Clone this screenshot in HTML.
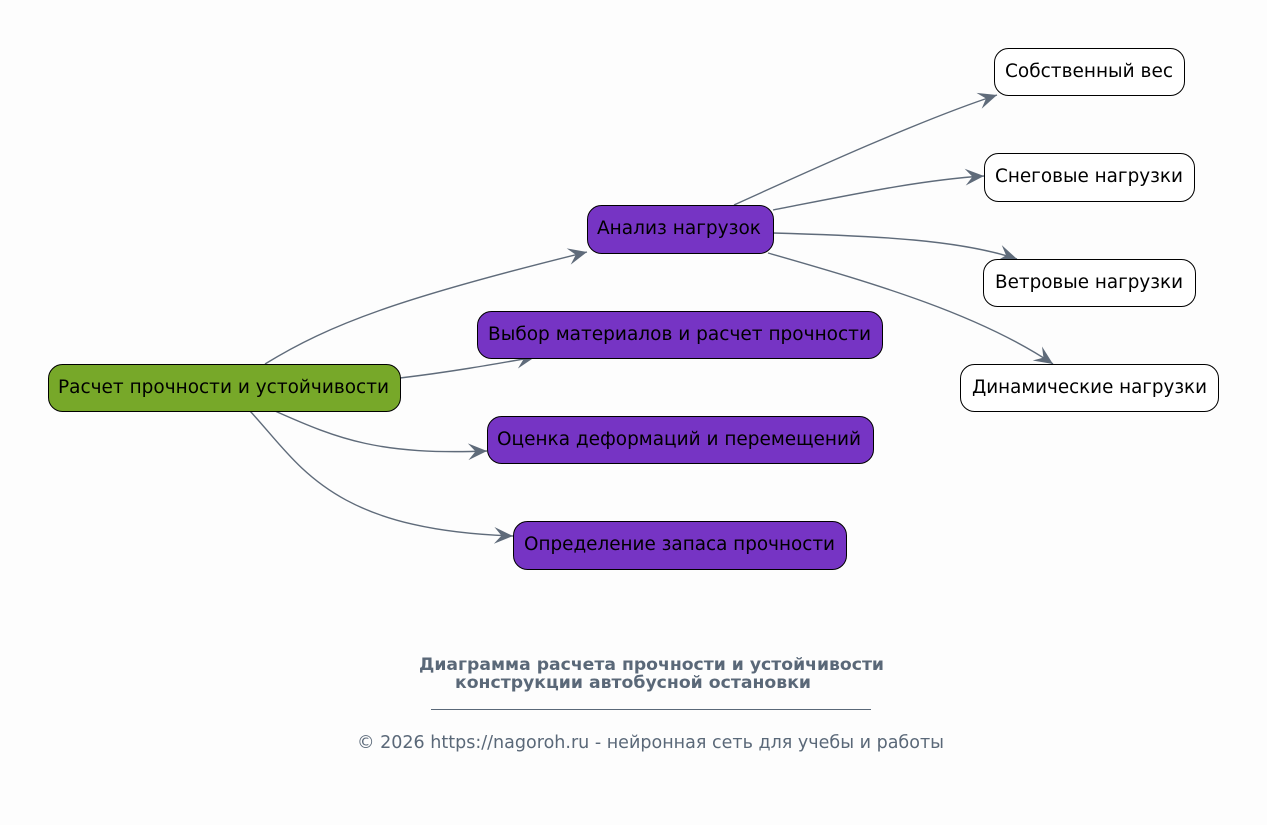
<!DOCTYPE html>
<html><head><meta charset="utf-8"><style>
html,body{margin:0;padding:0;background:#fdfdfd;}
svg{display:block;}
text{font-family:"DejaVu Sans","Liberation Sans",sans-serif;}
</style></head><body>
<svg width="1267" height="825" viewBox="0 0 1267 825" xmlns="http://www.w3.org/2000/svg">
<defs>
<marker id="v" markerUnits="userSpaceOnUse" markerWidth="22" markerHeight="22" refX="0" refY="0" viewBox="-19 -10 21 20" orient="auto">
<path d="M0,0 L-18,-8 L-11,0 L-18,8 Z" fill="#5f6b7a"/>
</marker>
</defs>
<rect width="1267" height="825" fill="#fdfdfd"/>
<g fill="none" stroke="#5f6b7a" stroke-width="1.4" marker-end="url(#v)">
<path d="M265,364 C330,324 400,298 587,252"/>
<path d="M400,378 C450,372 490,365 535,357"/>
<path d="M275,411 C340,440 380,455 487,451"/>
<path d="M250,411 C300,465 330,530 513,536"/>
<path d="M734,205 C800,175 920,120 997,95"/>
<path d="M773,210 C850,195 920,180 984,176"/>
<path d="M773,233 C880,236 960,240 1017,259"/>
<path d="M768,253 C880,285 980,315 1053,364"/>
</g>
<g stroke="#000" stroke-width="1">
<rect x="48.5" y="364.5" width="352" height="47" rx="14" fill="#77a829"/>
<rect x="587.5" y="205.5" width="186" height="48" rx="14" fill="#7634c4"/>
<rect x="477.5" y="311.5" width="405" height="47" rx="14" fill="#7634c4"/>
<rect x="487.5" y="416.5" width="386" height="47" rx="14" fill="#7634c4"/>
<rect x="513.5" y="521.5" width="333" height="48" rx="14" fill="#7634c4"/>
<rect x="994.5" y="48.5" width="190" height="47" rx="14" fill="#fff"/>
<rect x="984.5" y="153.5" width="210" height="48" rx="14" fill="#fff"/>
<rect x="983.5" y="259.5" width="212" height="47" rx="14" fill="#fff"/>
<rect x="960.5" y="364.5" width="258" height="47" rx="14" fill="#fff"/>
</g>
<g font-size="18.5" fill="#000">
<text x="58" y="393" textLength="331" lengthAdjust="spacingAndGlyphs">Расчет прочности и устойчивости</text>
<text x="597" y="234" textLength="164" lengthAdjust="spacingAndGlyphs">Анализ нагрузок</text>
<text x="488" y="340" textLength="383" lengthAdjust="spacingAndGlyphs">Выбор материалов и расчет прочности</text>
<text x="497" y="445" textLength="364" lengthAdjust="spacingAndGlyphs">Оценка деформаций и перемещений</text>
<text x="524" y="550" textLength="311" lengthAdjust="spacingAndGlyphs">Определение запаса прочности</text>
<text x="1005" y="77" textLength="168" lengthAdjust="spacingAndGlyphs">Собственный вес</text>
<text x="995" y="182" textLength="188" lengthAdjust="spacingAndGlyphs">Снеговые нагрузки</text>
<text x="995" y="288" textLength="188" lengthAdjust="spacingAndGlyphs">Ветровые нагрузки</text>
<text x="972" y="393" textLength="235" lengthAdjust="spacingAndGlyphs">Динамические нагрузки</text>
</g>
<g fill="#5a6878">
<text x="419" y="670" font-size="17" font-weight="bold" textLength="465" lengthAdjust="spacingAndGlyphs">Диаграмма расчета прочности и устойчивости</text>
<text x="455" y="688" font-size="17" font-weight="bold" textLength="356" lengthAdjust="spacingAndGlyphs">конструкции автобусной остановки</text>
<text x="357" y="748" font-size="17.5" textLength="587" lengthAdjust="spacingAndGlyphs">© 2026 https://nagoroh.ru - нейронная сеть для учебы и работы</text>
</g>
<line x1="431" y1="709.5" x2="871" y2="709.5" stroke="#5a6878" stroke-width="1"/>
</svg>
</body></html>
